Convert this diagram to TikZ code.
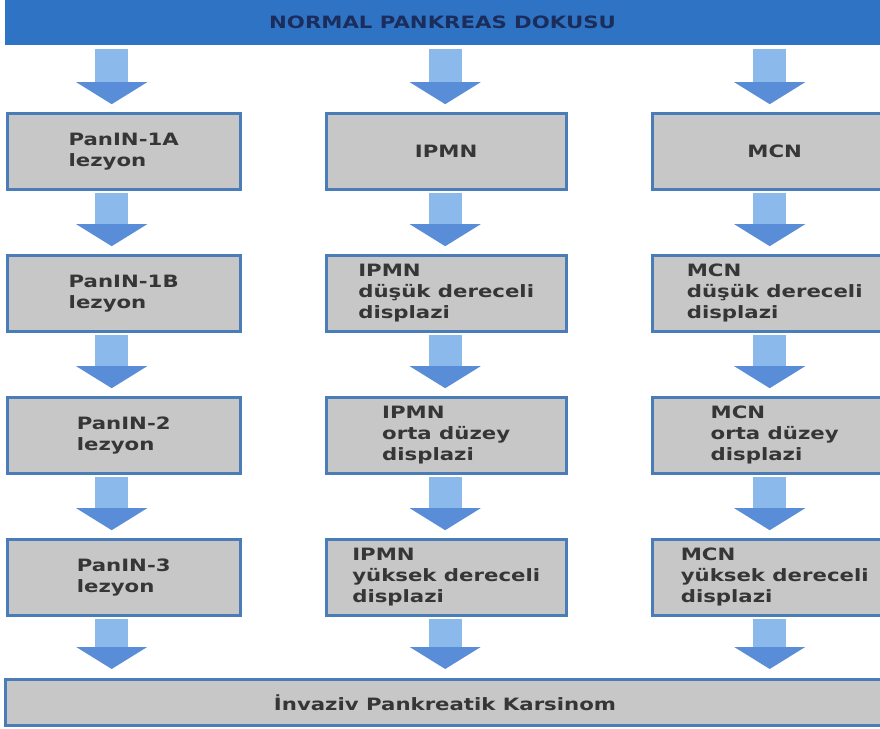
\documentclass[tikz,border=0pt]{standalone}
\usepackage{fontspec}
\setmainfont{DejaVu Sans}[FakeStretch=1.25]
\usepackage{tikz}
\usetikzlibrary{arrows.meta,positioning,calc}
\definecolor{bannerblue}{HTML}{2F74C4}
\definecolor{titlenavy}{HTML}{1B2D5C}
\definecolor{boxgray}{HTML}{C7C7C7}
\definecolor{boxedge}{HTML}{4A7CB8}
\definecolor{arrowlight}{HTML}{8CB9EC}
\definecolor{arrowblue}{HTML}{5A8DD8}
\definecolor{textgray}{HTML}{363636}
\tikzset{
  font={\fontsize{17pt}{21pt}\selectfont\bfseries}}

\begin{document}
\begin{tikzpicture}[x=1pt,y=1pt,
    block_banner/.style ={rectangle, draw=none, fill=bannerblue,
      text=titlenavy, minimum width=875, minimum height=45},
    block_stage/.style ={rectangle, draw=boxedge, line width=3pt, fill=boxgray,
      text=textgray, align=left, minimum height=76, outer sep=0pt},
    block_end/.style ={rectangle, draw=boxedge, line width=3pt, fill=boxgray,
      text=textgray, minimum width=880, minimum height=46},
    paths_block/.style={draw=arrowlight, line width=33pt,
      shorten <=4pt, shorten >=9pt,
      arrows={-Triangle[width=70pt, length=22pt, arrowblue, fill=arrowblue]}}]
    \useasboundingbox (0,0) rectangle (880,-728);
    % top and bottom bars
    \node[block_banner] (normal) at (442.5,-22.5) {NORMAL PANKREAS DOKUSU};
    \node[block_end] (karsinom) at (445,-702.5) {İnvaziv Pankreatik Karsinom};
    % the three lines of lesions
    \matrix (stages) [column sep=83pt, row sep=63pt, anchor=north west, inner sep=0pt] at (5.5,-111.5) {
      % row 1
      \node[block_stage, minimum width=233] (p1) {PanIN-1A\\lezyon}; &
      \node[block_stage, minimum width=240] (i1) {IPMN}; &
      \node[block_stage, minimum width=245] (m1) {MCN}; \\
      % row 2
      \node[block_stage, minimum width=233] (p2) {PanIN-1B\\lezyon}; &
      \node[block_stage, minimum width=240] (i2) {IPMN\\düşük dereceli\\displazi}; &
      \node[block_stage, minimum width=245] (m2) {MCN\\düşük dereceli\\displazi}; \\
      % row 3
      \node[block_stage, minimum width=233] (p3) {PanIN-2\\lezyon}; &
      \node[block_stage, minimum width=240] (i3) {IPMN\\orta düzey\\displazi}; &
      \node[block_stage, minimum width=245] (m3) {MCN\\orta düzey\\displazi}; \\
      % row 4
      \node[block_stage, minimum width=233] (p4) {PanIN-3\\lezyon}; &
      \node[block_stage, minimum width=240] (i4) {IPMN\\yüksek dereceli\\displazi}; &
      \node[block_stage, minimum width=245] (m4) {MCN\\yüksek dereceli\\displazi}; \\
    };% end matrix
    % block arrows between the boxes
    \begin{scope}[every path/.style=paths_block]
      % PanIN line
      \path([xshift=-12pt]p1.north |- normal.south)--([xshift=-12pt]p1.north);
      \path([xshift=-12pt]p1.south)--([xshift=-12pt]p2.north);
      \path([xshift=-12pt]p2.south)--([xshift=-12pt]p3.north);
      \path([xshift=-12pt]p3.south)--([xshift=-12pt]p4.north);
      \path([xshift=-12pt]p4.south)--([xshift=-12pt]p4.south |- karsinom.north);
      % IPMN line
      \path([xshift=-1pt]i1.north |- normal.south)--([xshift=-1pt]i1.north);
      \path([xshift=-1pt]i1.south)--([xshift=-1pt]i2.north);
      \path([xshift=-1pt]i2.south)--([xshift=-1pt]i3.north);
      \path([xshift=-1pt]i3.south)--([xshift=-1pt]i4.north);
      \path([xshift=-1pt]i4.south)--([xshift=-1pt]i4.south |- karsinom.north);
      % MCN line
      \path([xshift=-5pt]m1.north |- normal.south)--([xshift=-5pt]m1.north);
      \path([xshift=-5pt]m1.south)--([xshift=-5pt]m2.north);
      \path([xshift=-5pt]m2.south)--([xshift=-5pt]m3.north);
      \path([xshift=-5pt]m3.south)--([xshift=-5pt]m4.north);
      \path([xshift=-5pt]m4.south)--([xshift=-5pt]m4.south |- karsinom.north);
    \end{scope}
\end{tikzpicture}
\end{document}
